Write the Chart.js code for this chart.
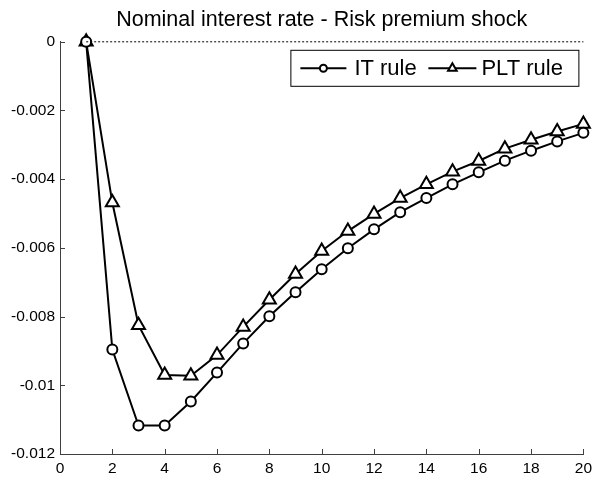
<!DOCTYPE html>
<html>
<head>
<meta charset="utf-8">
<script src="https://cdn.jsdelivr.net/npm/chart.js@4/dist/chart.umd.min.js"></script>
<style>
  html, body { margin: 0; padding: 0; background: #fff; }
  #wrap { width: 597px; height: 478px; }
</style>
</head>
<body>
<div id="wrap"><canvas id="c" width="597" height="478"></canvas></div>
<script>
const chartTitle = 'Nominal interest rate - Risk premium shock';
const periods = [1,2,3,4,5,6,7,8,9,10,11,12,13,14,15,16,17,18,19,20];
const itRule = [0, -0.00896, -0.01117, -0.01117, -0.01047, -0.00963, -0.00878, -0.00799, -0.00729, -0.00662,
                -0.00601, -0.00546, -0.00496, -0.00455, -0.00415, -0.0038, -0.00346, -0.00317, -0.0029, -0.00265];
const pltRule = [0, -0.00468, -0.00825, -0.0097, -0.00972, -0.00912, -0.0083, -0.00751, -0.00676, -0.00609,
                 -0.00551, -0.00501, -0.00455, -0.00415, -0.00378, -0.00347, -0.00311, -0.00285, -0.00261, -0.00239];
const zeroLineX = [1, 20];
const zeroLineY = [0, 0];
const seriesNames = ['IT rule', 'PLT rule'];
const xTickStep = 2;
const yTickStep = 0.002;

const FONT = "'Liberation Sans', Arial, Helvetica, sans-serif";
Chart.defaults.color = '#000';
Chart.defaults.font.family = FONT;

const toXY = (xs, ys) => xs.map((x, i) => ({ x: x, y: ys[i] }));

function drawMarker(ctx, style, x, y, r) {
  ctx.beginPath();
  if (style === 'circle') {
    ctx.arc(x, y, r, 0, Math.PI * 2);
  } else {
    let rad = 0;
    ctx.moveTo(x + Math.sin(rad) * r, y - Math.cos(rad) * r);
    rad += 2 * Math.PI / 3;
    ctx.lineTo(x + Math.sin(rad) * r, y - Math.cos(rad) * r);
    rad += 2 * Math.PI / 3;
    ctx.lineTo(x + Math.sin(rad) * r, y - Math.cos(rad) * r);
    ctx.closePath();
  }
  ctx.fillStyle = '#fff';
  ctx.fill();
  ctx.stroke();
}

const inwardTicks = {
  id: 'inwardTicks',
  afterDraw(chart) {
    const ctx = chart.ctx;
    const xs = chart.scales.x, ys = chart.scales.y;
    const a = chart.chartArea;
    ctx.save();
    ctx.strokeStyle = '#404040';
    ctx.lineWidth = 1;
    ctx.beginPath();
    xs.ticks.forEach(t => {
      const px = Math.round(xs.getPixelForValue(t.value)) + 0.5;
      ctx.moveTo(px, a.bottom);
      ctx.lineTo(px, a.bottom - 5);
    });
    ys.ticks.forEach(t => {
      const py = Math.round(ys.getPixelForValue(t.value)) + 0.5;
      ctx.moveTo(a.left, py);
      ctx.lineTo(a.left + 5, py);
    });
    ctx.stroke();
    ctx.restore();
  }
};

const boxLegend = {
  id: 'boxLegend',
  afterDraw(chart) {
    const ctx = chart.ctx;
    const a = chart.chartArea;
    const right = a.right - 4, left = right - 289;
    const top = a.top + 8, h = 37;
    ctx.save();
    ctx.fillStyle = '#fff';
    ctx.fillRect(left, top, right - left, h);
    ctx.strokeStyle = '#000';
    ctx.lineWidth = 1;
    ctx.strokeRect(left + 0.5, top + 0.5, right - left - 1, h - 1);
    const cy = top + h / 2;
    const items = [
      { start: left + 10, len: 46, text: seriesNames[0], style: 'circle', r: 3.5, tx: left + 64 },
      { start: left + 138, len: 48, text: seriesNames[1], style: 'triangle', r: 5, tx: left + 191 }
    ];
    ctx.font = '22px ' + FONT;
    ctx.textBaseline = 'middle';
    items.forEach(it => {
      ctx.strokeStyle = '#000';
      ctx.lineWidth = 2;
      ctx.beginPath();
      ctx.moveTo(it.start, cy);
      ctx.lineTo(it.start + it.len, cy);
      ctx.stroke();
      drawMarker(ctx, it.style, it.start + it.len / 2, cy, it.r);
      ctx.fillStyle = '#000';
      ctx.fillText(it.text, it.tx, cy + 1);
    });
    ctx.restore();
  }
};

new Chart(document.getElementById('c'), {
  type: 'line',
  data: {
    datasets: [
      {
        label: 'zero',
        data: toXY(zeroLineX, zeroLineY),
        borderColor: '#000',
        borderWidth: 1,
        borderDash: [2, 2],
        pointRadius: 0,
        tension: 0,
        clip: false
      },
      {
        label: seriesNames[0],
        data: toXY(periods, itRule),
        borderColor: '#000',
        backgroundColor: '#fff',
        borderWidth: 2,
        pointStyle: 'circle',
        pointRadius: 5,
        pointBorderWidth: 2,
        tension: 0,
        clip: false
      },
      {
        label: seriesNames[1],
        data: toXY(periods, pltRule),
        borderColor: '#000',
        backgroundColor: '#fff',
        borderWidth: 2,
        pointStyle: 'triangle',
        pointRadius: 7.5,
        pointBorderWidth: 2,
        tension: 0,
        clip: false
      }
    ]
  },
  options: {
    responsive: false,
    animation: false,
    layout: { padding: { left: 0, right: 10, top: 0, bottom: 0 } },
    plugins: {
      legend: { display: false },
      tooltip: { enabled: false },
      title: {
        display: true,
        text: chartTitle,
        fullSize: false,
        color: '#000',
        font: { size: 21.5, weight: 'normal', family: FONT },
        padding: { top: 7, bottom: 9 }
      }
    },
    scales: {
      x: {
        type: 'linear',
        min: 0, max: 20,
        ticks: { stepSize: xTickStep, padding: 5, font: { size: 15.5 }, color: '#000', maxRotation: 0 },
        grid: { display: true, drawOnChartArea: false, drawTicks: false, tickLength: 0 },
        border: { display: true, color: '#404040', width: 1 },
        afterFit(s) { s.height = 24; }
      },
      y: {
        type: 'linear',
        min: -0.012, max: 0,
        ticks: {
          stepSize: yTickStep, padding: 5, font: { size: 15.5 }, color: '#000',
          callback: v => String(Number(v.toFixed(3)))
        },
        grid: { display: true, drawOnChartArea: false, drawTicks: false, tickLength: 0 },
        border: { display: true, color: '#404040', width: 1 },
        afterFit(s) { s.width = 60; }
      }
    }
  },
  plugins: [inwardTicks, boxLegend]
});
</script>
</body>
</html>
